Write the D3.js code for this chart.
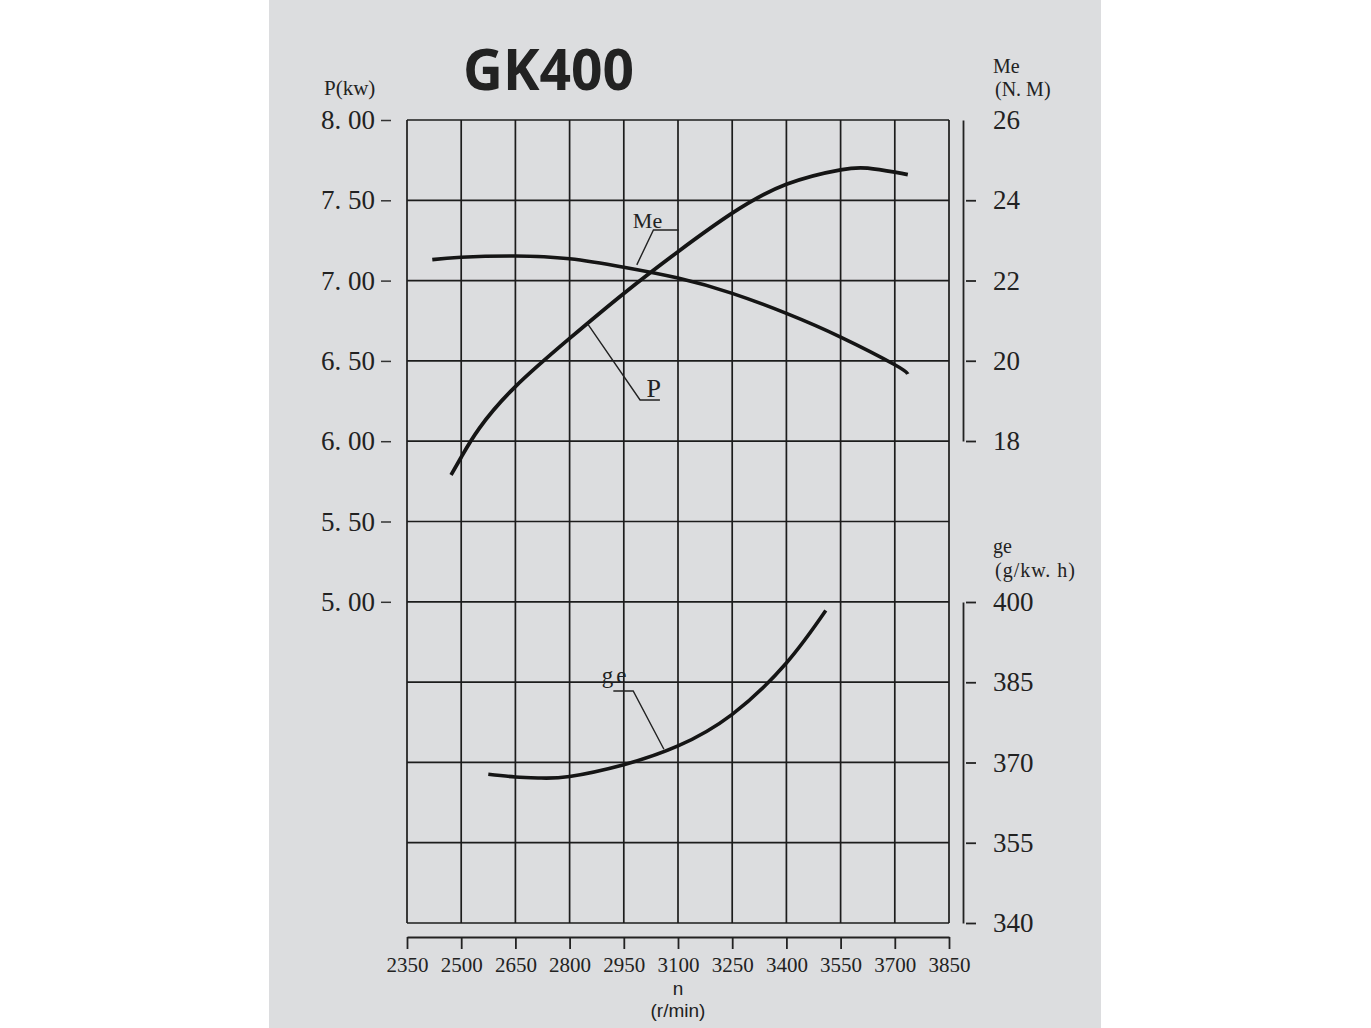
<!DOCTYPE html>
<html>
<head>
<meta charset="utf-8">
<script src="https://cdn.jsdelivr.net/npm/d3@7"></script>
<style>
  body { margin: 0; background: #fff; }
  svg text { fill: #222; }
</style>
</head>
<body>
<div id="chart"></div>
<script>
var width = 1371
var height = 1028

// speed axis
var rpmTicks = [2350, 2500, 2650, 2800, 2950, 3100, 3250, 3400, 3550, 3700, 3850]

// power P (kw), left axis
var pTicks = [5, 5.5, 6, 6.5, 7, 7.5, 8]
var pTickLabels = ["5. 00", "5. 50", "6. 00", "6. 50", "7. 00", "7. 50", "8. 00"]
var gridLevels = [3, 3.5, 4, 4.5, 5, 5.5, 6, 6.5, 7, 7.5, 8]
var pRpm = [2472, 2500, 2550, 2650, 2800, 2950, 3100, 3250, 3400, 3550, 3625, 3700, 3736]
var pKw = [5.79, 5.90, 6.08, 6.34, 6.64, 6.92, 7.18, 7.42, 7.60, 7.69, 7.70, 7.675, 7.66]

// torque Me (N.M), upper right axis
var meTicks = [18, 20, 22, 24, 26]
var meRpm = [2420, 2500, 2650, 2800, 2950, 3100, 3250, 3400, 3550, 3700, 3736]
var meNm = [22.52, 22.58, 22.61, 22.54, 22.33, 22.06, 21.68, 21.18, 20.59, 19.90, 19.67]

// fuel consumption ge (g/kw.h), lower right axis
var geTicks = [340, 355, 370, 385, 400]
var geRpm = [2575, 2650, 2720, 2800, 2950, 3100, 3250, 3400, 3509]
var geVal = [367.8, 367.3, 367.1, 367.4, 369.6, 373.1, 379.0, 388.6, 398.4]

// leader lines: [rpm, value] in each curve's own units
var meLeader = [[2986, 22.39], [3032, 23.26], [3102, 23.26]]
var meLabelAt = [2975, 23.31]
var pLeader = [[2850, 6.73], [2995, 6.257], [3050, 6.257]]
var pLabelAt = [3013, 6.275]
var geLeader = [[3061, 372.47], [2976, 383.36], [2921, 383.36]]
var geLabelAt = [2889, 384.86]

var svg = d3.select("#chart").append("svg")
    .attr("width", width)
    .attr("height", height)

svg.append("rect")
    .attr("x", 269).attr("y", 0)
    .attr("width", 832).attr("height", height)
    .attr("fill", "#dcdddf")

var x = d3.scaleLinear().domain([2350, 3850]).range([407, 949])
var yP = d3.scaleLinear().domain([3, 8]).range([923, 120])
var yMe = d3.scaleLinear().domain([18, 26]).range([441, 120])
var yGe = d3.scaleLinear().domain([340, 400]).range([923, 602])

var serif = "'Liberation Serif', 'DejaVu Serif', serif"

// grid
var grid = svg.append("g").attr("stroke", "#1c1c1c").attr("stroke-width", 1.7)
grid.selectAll("line.v")
    .data(rpmTicks)
    .join("line")
    .attr("class", "v")
    .attr("x1", d => x(d)).attr("x2", d => x(d))
    .attr("y1", yP(8)).attr("y2", yP(3))
grid.selectAll("line.h")
    .data(gridLevels)
    .join("line")
    .attr("class", "h")
    .attr("x1", x(2350)).attr("x2", x(3850))
    .attr("y1", d => yP(d)).attr("y2", d => yP(d))

// left axis
var leftAxis = svg.append("g")
    .attr("transform", "translate(391,0)")
    .call(d3.axisLeft(yP).tickValues(pTicks).tickSize(10).tickPadding(6)
        .tickFormat((d, i) => pTickLabels[i]))
leftAxis.select(".domain").remove()
leftAxis.selectAll("line").attr("stroke", "#333").attr("stroke-width", 1.5)
leftAxis.selectAll("text").style("font-family", serif).style("font-size", "27px").attr("fill", "#333")

// bottom axis
var bottomAxis = svg.append("g")
    .attr("transform", "translate(0,937)")
    .call(d3.axisBottom(x).tickValues(rpmTicks).tickSize(12).tickSizeOuter(0).tickPadding(8)
        .tickFormat(d3.format("d")))
bottomAxis.selectAll("path, line").attr("stroke", "#222").attr("stroke-width", 1.8)
bottomAxis.selectAll("text").style("font-family", serif).style("font-size", "21px").attr("fill", "#333")

// right axes
function rightAxis(scale, ticks, skipTop) {
    var g = svg.append("g")
        .attr("transform", "translate(963,0)")
        .call(d3.axisRight(scale).tickValues(ticks).tickSize(13).tickSizeOuter(0).tickPadding(17))
    g.selectAll("path, line").attr("stroke", "#222").attr("stroke-width", 1.8)
    g.selectAll("line").attr("x1", 3)
    if (skipTop) g.selectAll(".tick").filter(d => d === skipTop).select("line").remove()
    g.selectAll("text").style("font-family", serif).style("font-size", "27px").attr("fill", "#333")
    return g
}
rightAxis(yMe, meTicks, 26)
rightAxis(yGe, geTicks, null)

// axis titles
svg.append("text").attr("x", 324).attr("y", 95)
    .style("font-family", serif).style("font-size", "21px").attr("fill", "#333").text("P(kw)")
svg.append("text").attr("x", 993).attr("y", 73)
    .style("font-family", serif).style("font-size", "20px").attr("fill", "#333").text("Me")
svg.append("text").attr("x", 995).attr("y", 96)
    .style("font-family", serif).style("font-size", "20px").attr("fill", "#333").text("(N. M)")
svg.append("text").attr("x", 993).attr("y", 553)
    .style("font-family", serif).style("font-size", "20px").attr("fill", "#333").text("ge")
svg.append("text").attr("x", 995).attr("y", 577)
    .style("font-family", serif).style("font-size", "20px").attr("fill", "#333")
    .style("letter-spacing", "1px").text("(g/kw. h)")
svg.append("text").attr("x", 678).attr("y", 995).attr("text-anchor", "middle")
    .style("font-family", "'Liberation Sans', Arial, sans-serif").style("font-size", "19px").text("n")
svg.append("text").attr("x", 678).attr("y", 1017).attr("text-anchor", "middle")
    .style("font-family", "'Liberation Sans', Arial, sans-serif").style("font-size", "19px").text("(r/min)")

// title
svg.append("text").attr("x", 463).attr("y", 90)
    .style("font-family", "'Open Sans', 'Liberation Sans', sans-serif")
    .style("font-weight", "700").style("font-size", "58px")
    .attr("textLength", 171).attr("lengthAdjust", "spacingAndGlyphs")
    .attr("fill", "#000").text("GK400")

// curves
function curve(xs, ys, yScale, w) {
    var pts = xs.map((d, i) => [d, ys[i]])
    svg.append("path")
        .datum(pts)
        .attr("fill", "none")
        .attr("stroke", "#151515")
        .attr("stroke-width", w)
        .attr("d", d3.line()
            .x(d => x(d[0]))
            .y(d => yScale(d[1]))
            .curve(d3.curveNatural))
}
curve(meRpm, meNm, yMe, 3.6)
curve(pRpm, pKw, yP, 3.8)
curve(geRpm, geVal, yGe, 3.6)

// leader lines and curve labels
function leader(pts, yScale, labelAt, label, size, spacing) {
    svg.append("path")
        .datum(pts)
        .attr("fill", "none")
        .attr("stroke", "#222")
        .attr("stroke-width", 1.4)
        .attr("d", d3.line().x(d => x(d[0])).y(d => yScale(d[1])))
    svg.append("text")
        .attr("x", x(labelAt[0])).attr("y", yScale(labelAt[1]))
        .style("font-family", serif).style("font-size", size + "px")
        .style("letter-spacing", spacing + "px")
        .attr("fill", "#333").text(label)
}
leader(meLeader, yMe, meLabelAt, "Me", 22, 0)
leader(pLeader, yP, pLabelAt, "P", 26, 0)
leader(geLeader, yGe, geLabelAt, "ge", 23, 3)
</script>
</body>
</html>
